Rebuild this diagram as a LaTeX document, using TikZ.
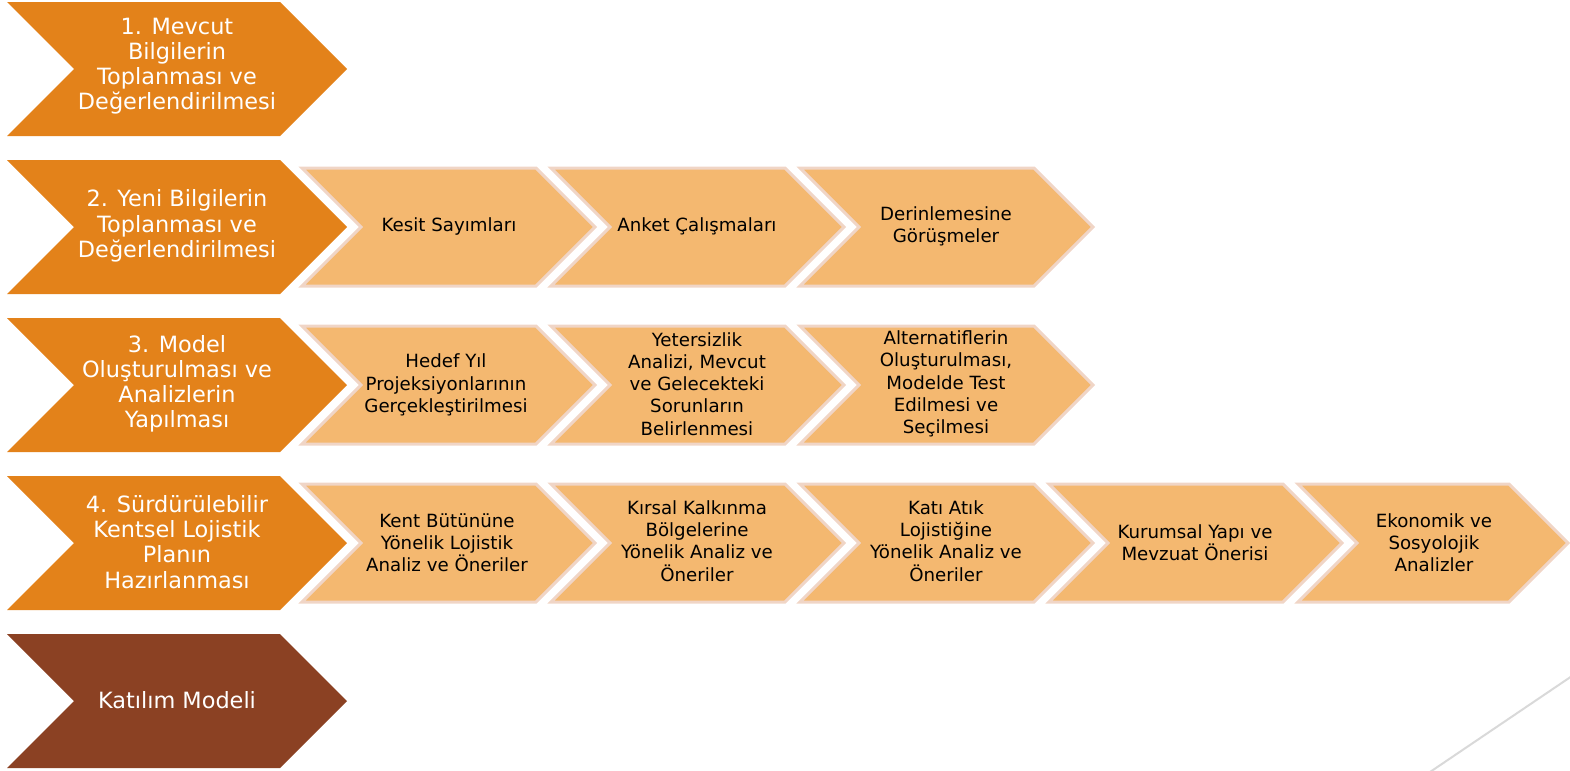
\documentclass[tikz,border=0pt]{standalone}
\usepackage{fontspec}
\setmainfont{DejaVu Sans}
\definecolor{bigorange}{HTML}{E3821A}
\definecolor{bigbrown}{HTML}{8B4123}
\definecolor{smallfill}{HTML}{F4B870}
\definecolor{smallline}{HTML}{F0D5C6}
\definecolor{decoline}{HTML}{D9D9D9}
\tikzset{
  bigshape/.style={fill=bigorange},
  brownshape/.style={fill=bigbrown},
  smallshape/.style={fill=smallfill, draw=smallline, line width=1.5pt, line join=miter},
  bigtext/.style={text=white, align=center, font=\fontsize{11.2pt}{12.6pt}\selectfont, inner sep=0pt},
  smalltext/.style={text=black, align=center, font=\fontsize{9.1pt}{11.1pt}\selectfont, inner sep=0pt},
}
% #1 style, #2 left x, #3 top y, #4 width to tip, #5 height
\newcommand{\chevpath}[5]{%
  \path[#1] (#2,#3) -- ++(#4-#5/2,0) -- ++(#5/2,#5/2) -- ++(-#5/2,#5/2) -- ++(-#4+#5/2,0) -- ++(#5/2,-#5/2) -- cycle;}
\begin{document}
\begin{tikzpicture}[x=0.5pt,y=-0.5pt]
\useasboundingbox (0,0) rectangle (1570,771);
% big chevrons
\chevpath{bigshape}{7}{2}{340}{134}
\chevpath{bigshape}{7}{160}{340}{134}
\chevpath{bigshape}{7}{318}{340}{134}
\chevpath{bigshape}{7}{476}{340}{134}
\chevpath{brownshape}{7}{634}{340}{134}
\node[bigtext] (b1) at (177,66) {1. Mevcut\\Bilgilerin\\Toplanması ve\\Değerlendirilmesi};
\node[bigtext] (b2) at (177,226) {2. Yeni Bilgilerin\\Toplanması ve\\Değerlendirilmesi};
\node[bigtext] (b3) at (177,384) {3. Model\\Oluşturulması ve\\Analizlerin\\Yapılması};
\node[bigtext] (b4) at (177,542) {4. Sürdürülebilir\\Kentsel Lojistik\\Planın\\Hazırlanması};
\node[bigtext] (b5) at (177,700) {Katılım Modeli};
% small chevrons row 2
\chevpath{smallshape}{302}{168}{293}{118}
\chevpath{smallshape}{551}{168}{293}{118}
\chevpath{smallshape}{800}{168}{293}{118}
\node[smalltext] (s21) at (449,226) {Kesit Sayımları};
\node[smalltext] (s22) at (697,226) {Anket Çalışmaları};
\node[smalltext] (s23) at (946,226) {Derinlemesine\\Görüşmeler};
% row 3
\chevpath{smallshape}{302}{326}{293}{118}
\chevpath{smallshape}{551}{326}{293}{118}
\chevpath{smallshape}{800}{326}{293}{118}
\node[smalltext] (s31) at (446,385) {Hedef Yıl\\Projeksiyonlarının\\Gerçekleştirilmesi};
\node[smalltext] (s32) at (697,384) {Yetersizlik\\Analizi, Mevcut\\ve Gelecekteki\\Sorunların\\Belirlenmesi};
\node[smalltext] (s33) at (946,384) {Alternatiflerin\\Oluşturulması,\\Modelde Test\\Edilmesi ve\\Seçilmesi};
% row 4
\chevpath{smallshape}{302}{484}{293}{118}
\chevpath{smallshape}{551}{484}{293}{118}
\chevpath{smallshape}{800}{484}{293}{118}
\chevpath{smallshape}{1049}{484}{293}{118}
\chevpath{smallshape}{1298}{484}{270}{118}
\node[smalltext] (s41) at (447,543) {Kent Bütününe\\Yönelik Lojistik\\Analiz ve Öneriler};
\node[smalltext] (s42) at (697,541) {Kırsal Kalkınma\\Bölgelerine\\Yönelik Analiz ve\\Öneriler};
\node[smalltext] (s43) at (946,541) {Katı Atık\\Lojistiğine\\Yönelik Analiz ve\\Öneriler};
\node[smalltext] (s44) at (1195,543) {Kurumsal Yapı ve\\Mevzuat Önerisi};
\node[smalltext] (s45) at (1434,543) {Ekonomik ve\\Sosyolojik\\Analizler};
% decorative line
\coordinate (d1) at (1430,772);
\coordinate (d2) at (1572,676);
\draw[decoline, line width=1pt] (d1) -- (d2);
\end{tikzpicture}
\end{document}
